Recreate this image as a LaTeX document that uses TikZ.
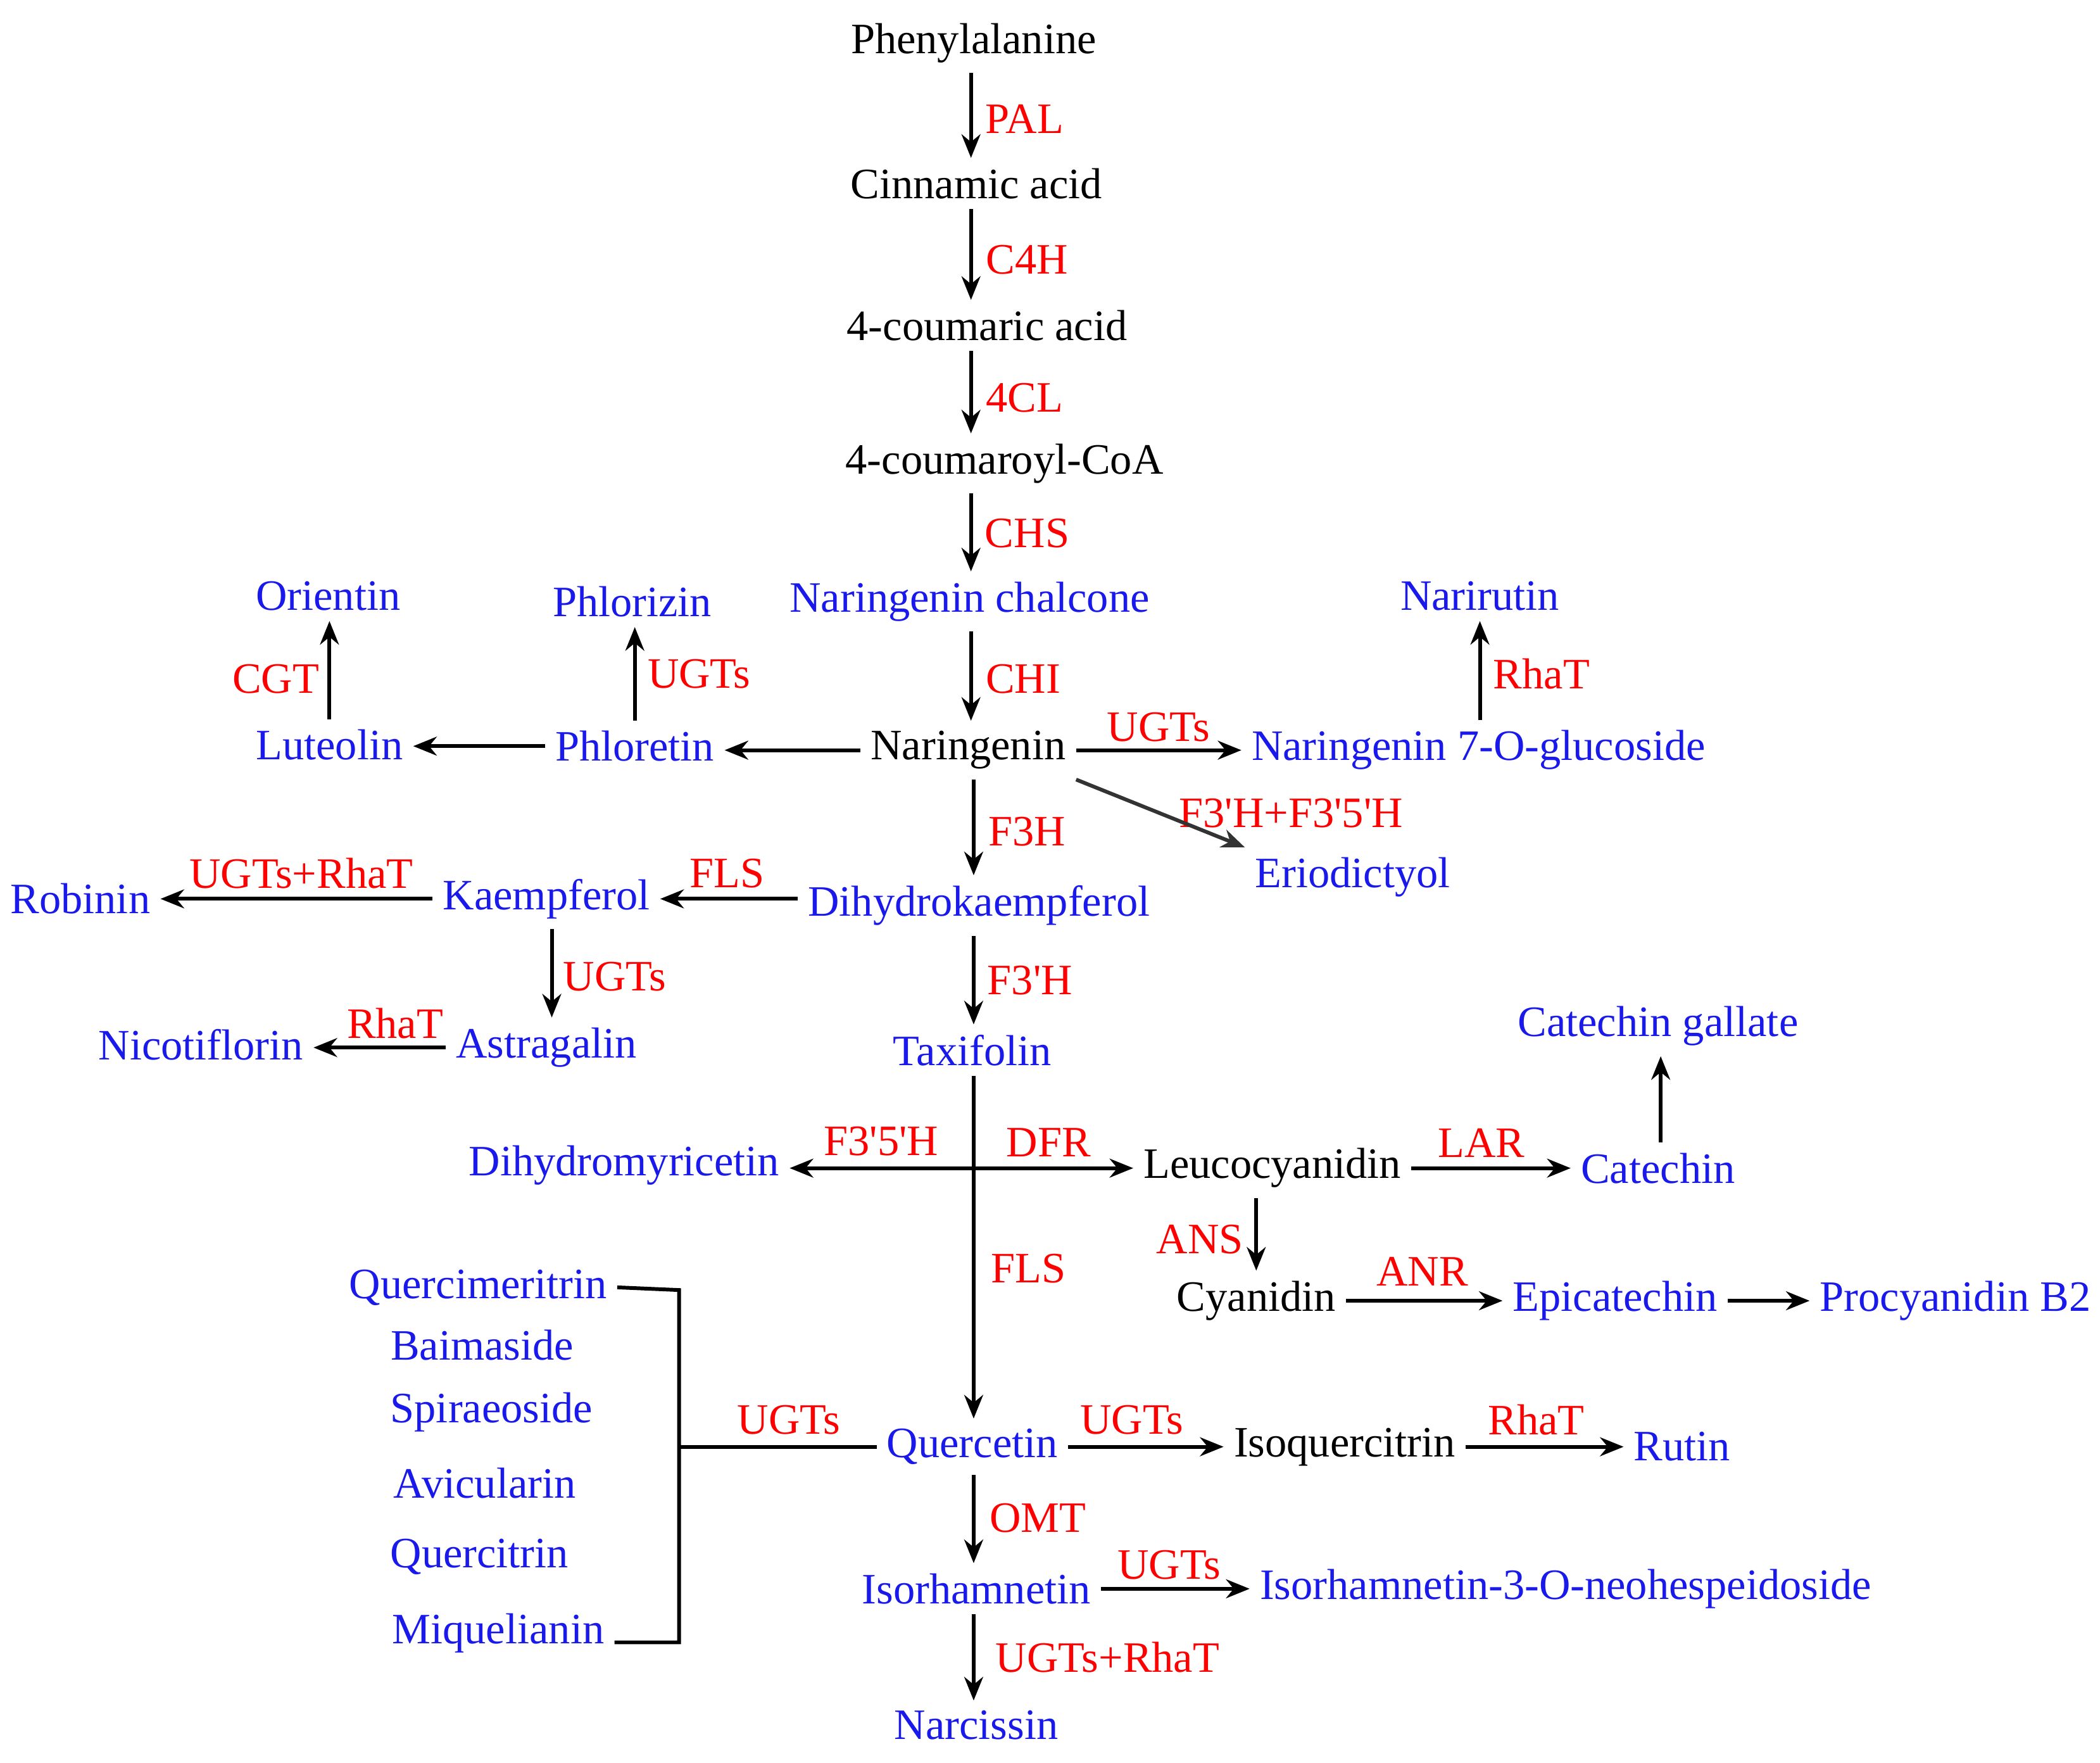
\documentclass[tikz,border=0pt]{standalone}
\usepackage{fontspec}
\setmainfont{Liberation Serif}
\usetikzlibrary{arrows.meta}
\definecolor{cpd}{RGB}{25,25,235}
\newcommand{\pr}{\textquotesingle}
\tikzset{
    every node/.style={inner sep=2pt, font=\fontsize{9.2}{11}\selectfont},
    cpd/.style={text=cpd},
    met/.style={text=black},
    enz/.style={text=red},
    rxn/.style={-{Stealth[length=5pt,width=4pt]}, line width=0.8pt}
}

\begin{document}
\begin{tikzpicture}[x=0.01cm, y=-0.01cm]
    \useasboundingbox (0,0) rectangle (1568,1316);

    % main trunk
    \node (phe) [met] at (727,32) {Phenylalanine};
    \node (cin) [met] at (729,137) {Cinnamic acid};
    \node (cou) [met] at (737,243) {4-coumaric acid};
    \node (coa) [met] at (750,346) {4-coumaroyl-CoA};
    \node (nch) [cpd] at (724,449) {Naringenin chalcone};
    \node (nar) [met] at (723,560) {Naringenin};
    \node (dhk) [cpd] at (731,676) {Dihydrokaempferol};
    \node (tax) [cpd] at (726,784) {Taxifolin};
    \node (que) [cpd] at (726,1080) {Quercetin};
    \node (iso) [cpd] at (729,1186) {Isorhamnetin};
    \node (ncs) [cpd] at (729,1288) {Narcissin};

    % branches
    \node (n7g) [cpd] at (1104,560) {Naringenin 7-O-glucoside};
    \node (nrt) [cpd] at (1105,445) {Narirutin};
    \node (eri) [cpd] at (1010,655) {Eriodictyol};
    \node (phl) [cpd] at (474,557) {Phloretin};
    \node (phz) [cpd] at (472,449) {Phlorizin};
    \node (lut) [cpd] at (246,556) {Luteolin};
    \node (ori) [cpd] at (245,445) {Orientin};
    \node (kae) [cpd] at (408,671) {Kaempferol};
    \node (rob) [cpd] at (60,671) {Robinin};
    \node (ast) [cpd] at (408,782) {Astragalin};
    \node (nic) [cpd] at (150,780) {Nicotiflorin};
    \node (dhm) [cpd] at (466,870) {Dihydromyricetin};
    \node (leu) [met] at (950,872) {Leucocyanidin};
    \node (cat) [cpd] at (1238,872) {Catechin};
    \node (cag) [cpd] at (1238,766) {Catechin gallate};
    \node (cya) [met] at (938,971) {Cyanidin};
    \node (epi) [cpd] at (1206,971) {Epicatechin};
    \node (pro) [cpd] at (1460,971) {Procyanidin B2};
    \node (iqc) [met] at (1004,1080) {Isoquercitrin};
    \node (rut) [cpd] at (1256,1080) {Rutin};
    \node (ino) [cpd] at (1169,1186) {Isorhamnetin-3-O-neohespeidoside};

    % glycoside list
    \node (qmr) [cpd] at (357,961) {Quercimeritrin};
    \node (bai) [cpd] at (360,1004) {Baimaside};
    \node (spi) [cpd] at (367,1054) {Spiraeoside};
    \node (avi) [cpd] at (362,1107) {Avicularin};
    \node (qct) [cpd] at (358,1162) {Quercitrin};
    \node (miq) [cpd] at (372,1219) {Miquelianin};

    % enzymes
    \node (ePAL) [enz] at (765,89) {PAL};
    \node (eC4H) [enz] at (767,194) {C4H};
    \node (e4CL) [enz] at (765,297) {4CL};
    \node (eCHS) [enz] at (767,398) {CHS};
    \node (eCHI) [enz] at (764,507) {CHI};
    \node (eF3H) [enz] at (767,621) {F3H};
    \node (eF3pH) [enz] at (769,732) {F3\pr H};
    \node (eFLSb) [enz] at (768,947) {FLS};
    \node (eOMT) [enz] at (775,1133) {OMT};
    \node (eUR) [enz] at (827,1237) {UGTs+RhaT};
    \node (eUn) [enz] at (865,543) {UGTs};
    \node (eRn) [enz] at (1151,503) {RhaT};
    \node (eFF) [enz] at (964,607) {F3\pr H+F3\pr 5\pr H};
    \node (eUp) [enz] at (522,503) {UGTs};
    \node (eCGT) [enz] at (206,507) {CGT};
    \node (eFLS) [enz] at (543,652) {FLS};
    \node (eURk) [enz] at (225,652) {UGTs+RhaT};
    \node (eUk) [enz] at (459,729) {UGTs};
    \node (eRa) [enz] at (295,764) {RhaT};
    \node (eF35) [enz] at (658,852) {F3\pr 5\pr H};
    \node (eDFR) [enz] at (783,853) {DFR};
    \node (eLAR) [enz] at (1106,853) {LAR};
    \node (eANS) [enz] at (896,925) {ANS};
    \node (eANR) [enz] at (1062,949) {ANR};
    \node (eUq) [enz] at (845,1060) {UGTs};
    \node (eRq) [enz] at (1147,1060) {RhaT};
    \node (eUi) [enz] at (873,1168) {UGTs};
    \node (eUg) [enz] at (589,1060) {UGTs};

    \coordinate (jt) at (727,872);
    \coordinate (bt) at (507,963);
    \coordinate (bm) at (507,1080);
    \coordinate (bb) at (507,1226);

    \draw[rxn] (phe.south -| 725,0) -- (cin.north -| 725,0);
    \draw[rxn] (cin.south -| 725,0) -- (cou.north -| 725,0);
    \draw[rxn] (cou.south -| 725,0) -- (coa.north -| 725,0);
    \draw[rxn] (coa.south -| 725,0) -- (nch.north -| 725,0);
    \draw[rxn] (nch.south -| 725,0) -- (nar.north -| 725,0);
    \draw[rxn] (nar.south -| 727,0) -- (dhk.north -| 727,0);
    \draw[rxn] (dhk.south -| 727,0) -- (tax.north -| 727,0);
    \draw[rxn] (tax.south -| 727,0) -- (que.north -| 727,0);
    \draw[rxn] (que.south -| 727,0) -- (iso.north -| 727,0);
    \draw[rxn] (iso.south -| 727,0) -- (ncs.north -| 727,0);

    \draw[rxn] (nar.east) -- (n7g.west |- nar.east);
    \draw[rxn] (n7g.north -| 1105,0) -- (nrt.south -| 1105,0);
    \draw[rxn, black!80] (nar.south east) -- (eri.north west);
    \draw[rxn] (nar.west) -- (phl.east |- nar.west);
    \draw[rxn] (phl.north -| 474,0) -- (phz.south -| 474,0);
    \draw[rxn] (phl.west) -- (lut.east |- phl.west);
    \draw[rxn] (lut.north -| 246,0) -- (ori.south -| 246,0);
    \draw[rxn] (dhk.west |- kae.east) -- (kae.east);
    \draw[rxn] (kae.west) -- (rob.east |- kae.west);
    \draw[rxn] (kae.south -| 412,0) -- (ast.north -| 412,0);
    \draw[rxn] (ast.west) -- (nic.east |- ast.west);
    \draw[rxn] (jt) -- (dhm.east |- jt);
    \draw[rxn] (jt) -- (leu.west |- jt);
    \draw[rxn] (leu.east) -- (cat.west |- leu.east);
    \draw[rxn] (cat.north -| 1240,0) -- (cag.south -| 1240,0);
    \draw[rxn] (leu.south -| 938,0) -- (cya.north -| 938,0);
    \draw[rxn] (cya.east) -- (epi.west);
    \draw[rxn] (epi.east) -- (pro.west);
    \draw[rxn] (que.east) -- (iqc.west);
    \draw[rxn] (iqc.east) -- (rut.west |- iqc.east);
    \draw[rxn] (iso.east) -- (ino.west |- iso.east);

    \draw[line width=0.8pt] (qmr.east) -- (bt) -- (bb) -- (miq.east |- bb);
    \draw[line width=0.8pt] (bm) -- (que.west);
\end{tikzpicture}
\end{document}
